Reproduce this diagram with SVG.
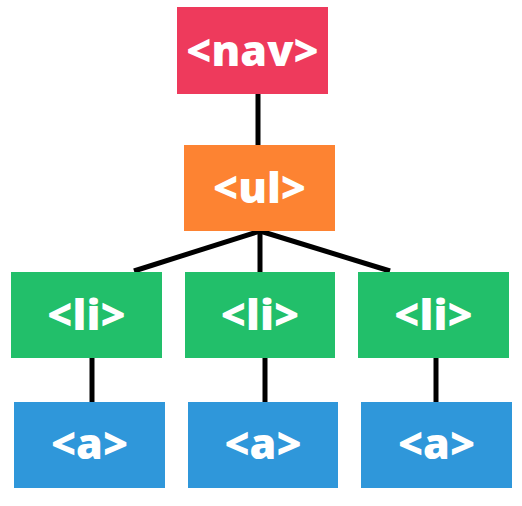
<svg xmlns="http://www.w3.org/2000/svg" width="522" height="506" viewBox="0 0 522 506">
<style>
.t{font-family:"Open Sans","Noto Sans","Liberation Sans",sans-serif;font-weight:800;font-size:43px;fill:#fff;text-anchor:middle}
.c{stroke:#000;stroke-width:5;fill:none}
.nav{fill:#EE3A5C}.ul{fill:#FD8332}.li{fill:#22BF6A}.a{fill:#2F97DA}
</style>
<rect width="522" height="506" fill="#fff"/>
<g id="connectors">
<line class="c" x1="258" y1="94" x2="258" y2="145"/>
<line class="c" x1="260" y1="231" x2="134" y2="271"/>
<line class="c" x1="260" y1="231" x2="260" y2="272"/>
<line class="c" x1="260" y1="231" x2="390" y2="271"/>
<line class="c" x1="92" y1="358" x2="92" y2="404"/>
<line class="c" x1="265" y1="358" x2="265" y2="404"/>
<line class="c" x1="436" y1="358" x2="436" y2="402"/>
</g>
<g id="nav"><rect class="nav" x="177" y="7" width="151" height="87"/><text class="t" x="252.5" y="66">&lt;nav&gt;</text></g>
<g id="ul"><rect class="ul" x="184" y="145" width="151" height="86"/><text class="t" x="259.5" y="203">&lt;ul&gt;</text></g>
<g id="li1"><rect class="li" x="11" y="272" width="151" height="86"/><text class="t" x="86.5" y="330">&lt;li&gt;</text></g>
<g id="li2"><rect class="li" x="185" y="272" width="150" height="86"/><text class="t" x="260" y="330">&lt;li&gt;</text></g>
<g id="li3"><rect class="li" x="358" y="272" width="151" height="86"/><text class="t" x="433.5" y="330">&lt;li&gt;</text></g>
<g id="a1"><rect class="a" x="14" y="402" width="151" height="86"/><text class="t" x="89.5" y="459">&lt;a&gt;</text></g>
<g id="a2"><rect class="a" x="188" y="402" width="150" height="86"/><text class="t" x="263" y="459">&lt;a&gt;</text></g>
<g id="a3"><rect class="a" x="361" y="402" width="151" height="86"/><text class="t" x="436.5" y="459">&lt;a&gt;</text></g>
</svg>
